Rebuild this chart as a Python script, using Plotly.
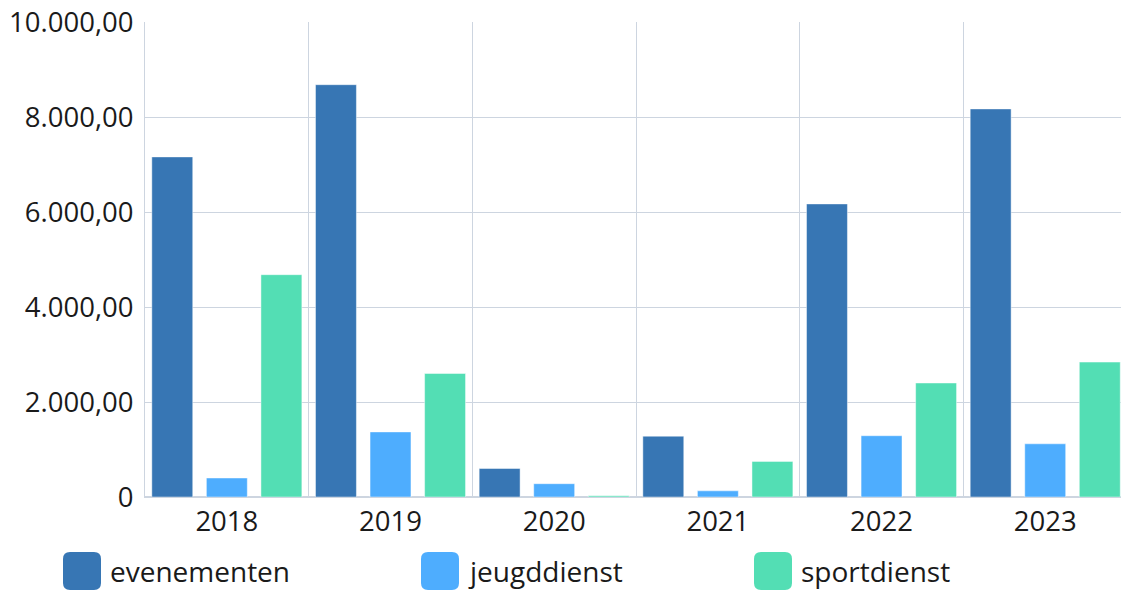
import plotly.graph_objects as go

# data
years = ["2018", "2019", "2020", "2021", "2022", "2023"]
series_names = ["evenementen", "jeugddienst", "sportdienst"]
evenementen = [7160, 8680, 600, 1280, 6170, 8170]
jeugddienst = [400, 1370, 280, 130, 1290, 1120]
sportdienst = [4680, 2600, 25, 750, 2400, 2840]
y_ticks = [0, 2000, 4000, 6000, 8000, 10000]
y_tick_labels = ["0", "2.000,00", "4.000,00", "6.000,00", "8.000,00", "10.000,00"]

colors = ["#3776B4", "#4EADFE", "#53DEB4"]
grid_color = "#CDD5E0"
font_family = "Open Sans, Noto Sans, sans-serif"

W, H = 1121, 591
L, T, B = 145, 22, 94
plot_w, plot_h = W - L, H - T - B

fig = go.Figure()
for name, values, color in zip(series_names, [evenementen, jeugddienst, sportdienst], colors):
    fig.add_trace(go.Bar(x=years, y=values, name=name, showlegend=False,
                         marker=dict(color=color, line=dict(color="rgba(255,255,255,0.45)", width=1))))

fig.update_layout(
    width=W, height=H,
    margin=dict(l=L, r=0, t=T, b=B, autoexpand=False),
    paper_bgcolor="white", plot_bgcolor="white",
    barmode="group", bargap=0, bargroupgap=0.25,
    font=dict(family=font_family, size=27.5, color="#1a1a1a"),
)
fig.update_xaxes(type="category", range=[-0.5, 5.463], tickson="boundaries",
                 showgrid=True, gridcolor=grid_color, gridwidth=1,
                 showline=True, linecolor=grid_color, ticks="", ticklabelstandoff=0)
fig.update_yaxes(range=[0, 10000], tickvals=y_ticks, ticktext=y_tick_labels,
                 showgrid=True, gridcolor=grid_color, zeroline=True, zerolinecolor=grid_color,
                 showline=True, linecolor=grid_color, ticks="", ticklabelstandoff=5)


def to_paper(px, py):
    # pixel position on the page -> paper coords of the plot area
    return (px - L) / plot_w, (H - B - py) / plot_h


# custom legend with large rounded squares
legend_x = [63, 421, 754]
sq, r, cy = 38, 7, 571
for px0, name, color in zip(legend_x, series_names, colors):
    x0, y0 = to_paper(px0, cy + sq / 2)
    x1, y1 = to_paper(px0 + sq, cy - sq / 2)
    rx, ry = r / plot_w, r / plot_h
    path = (f"M {x0 + rx},{y0} L {x1 - rx},{y0} Q {x1},{y0} {x1},{y0 + ry} "
            f"L {x1},{y1 - ry} Q {x1},{y1} {x1 - rx},{y1} L {x0 + rx},{y1} "
            f"Q {x0},{y1} {x0},{y1 - ry} L {x0},{y0 + ry} Q {x0},{y0} {x0 + rx},{y0} Z")
    fig.add_shape(type="path", path=path, xref="paper", yref="paper",
                  fillcolor=color, line=dict(width=0), layer="above")
    tx, ty = to_paper(px0 + 45, cy)
    fig.add_annotation(x=tx, y=ty, xref="paper", yref="paper",
                       text=name, showarrow=False, xanchor="left", yanchor="middle",
                       font=dict(family=font_family, size=28, color="#1a1a1a"))

fig.write_html("out.html", config={"displayModeBar": False},
               post_script="document.body.style.margin='0';")
